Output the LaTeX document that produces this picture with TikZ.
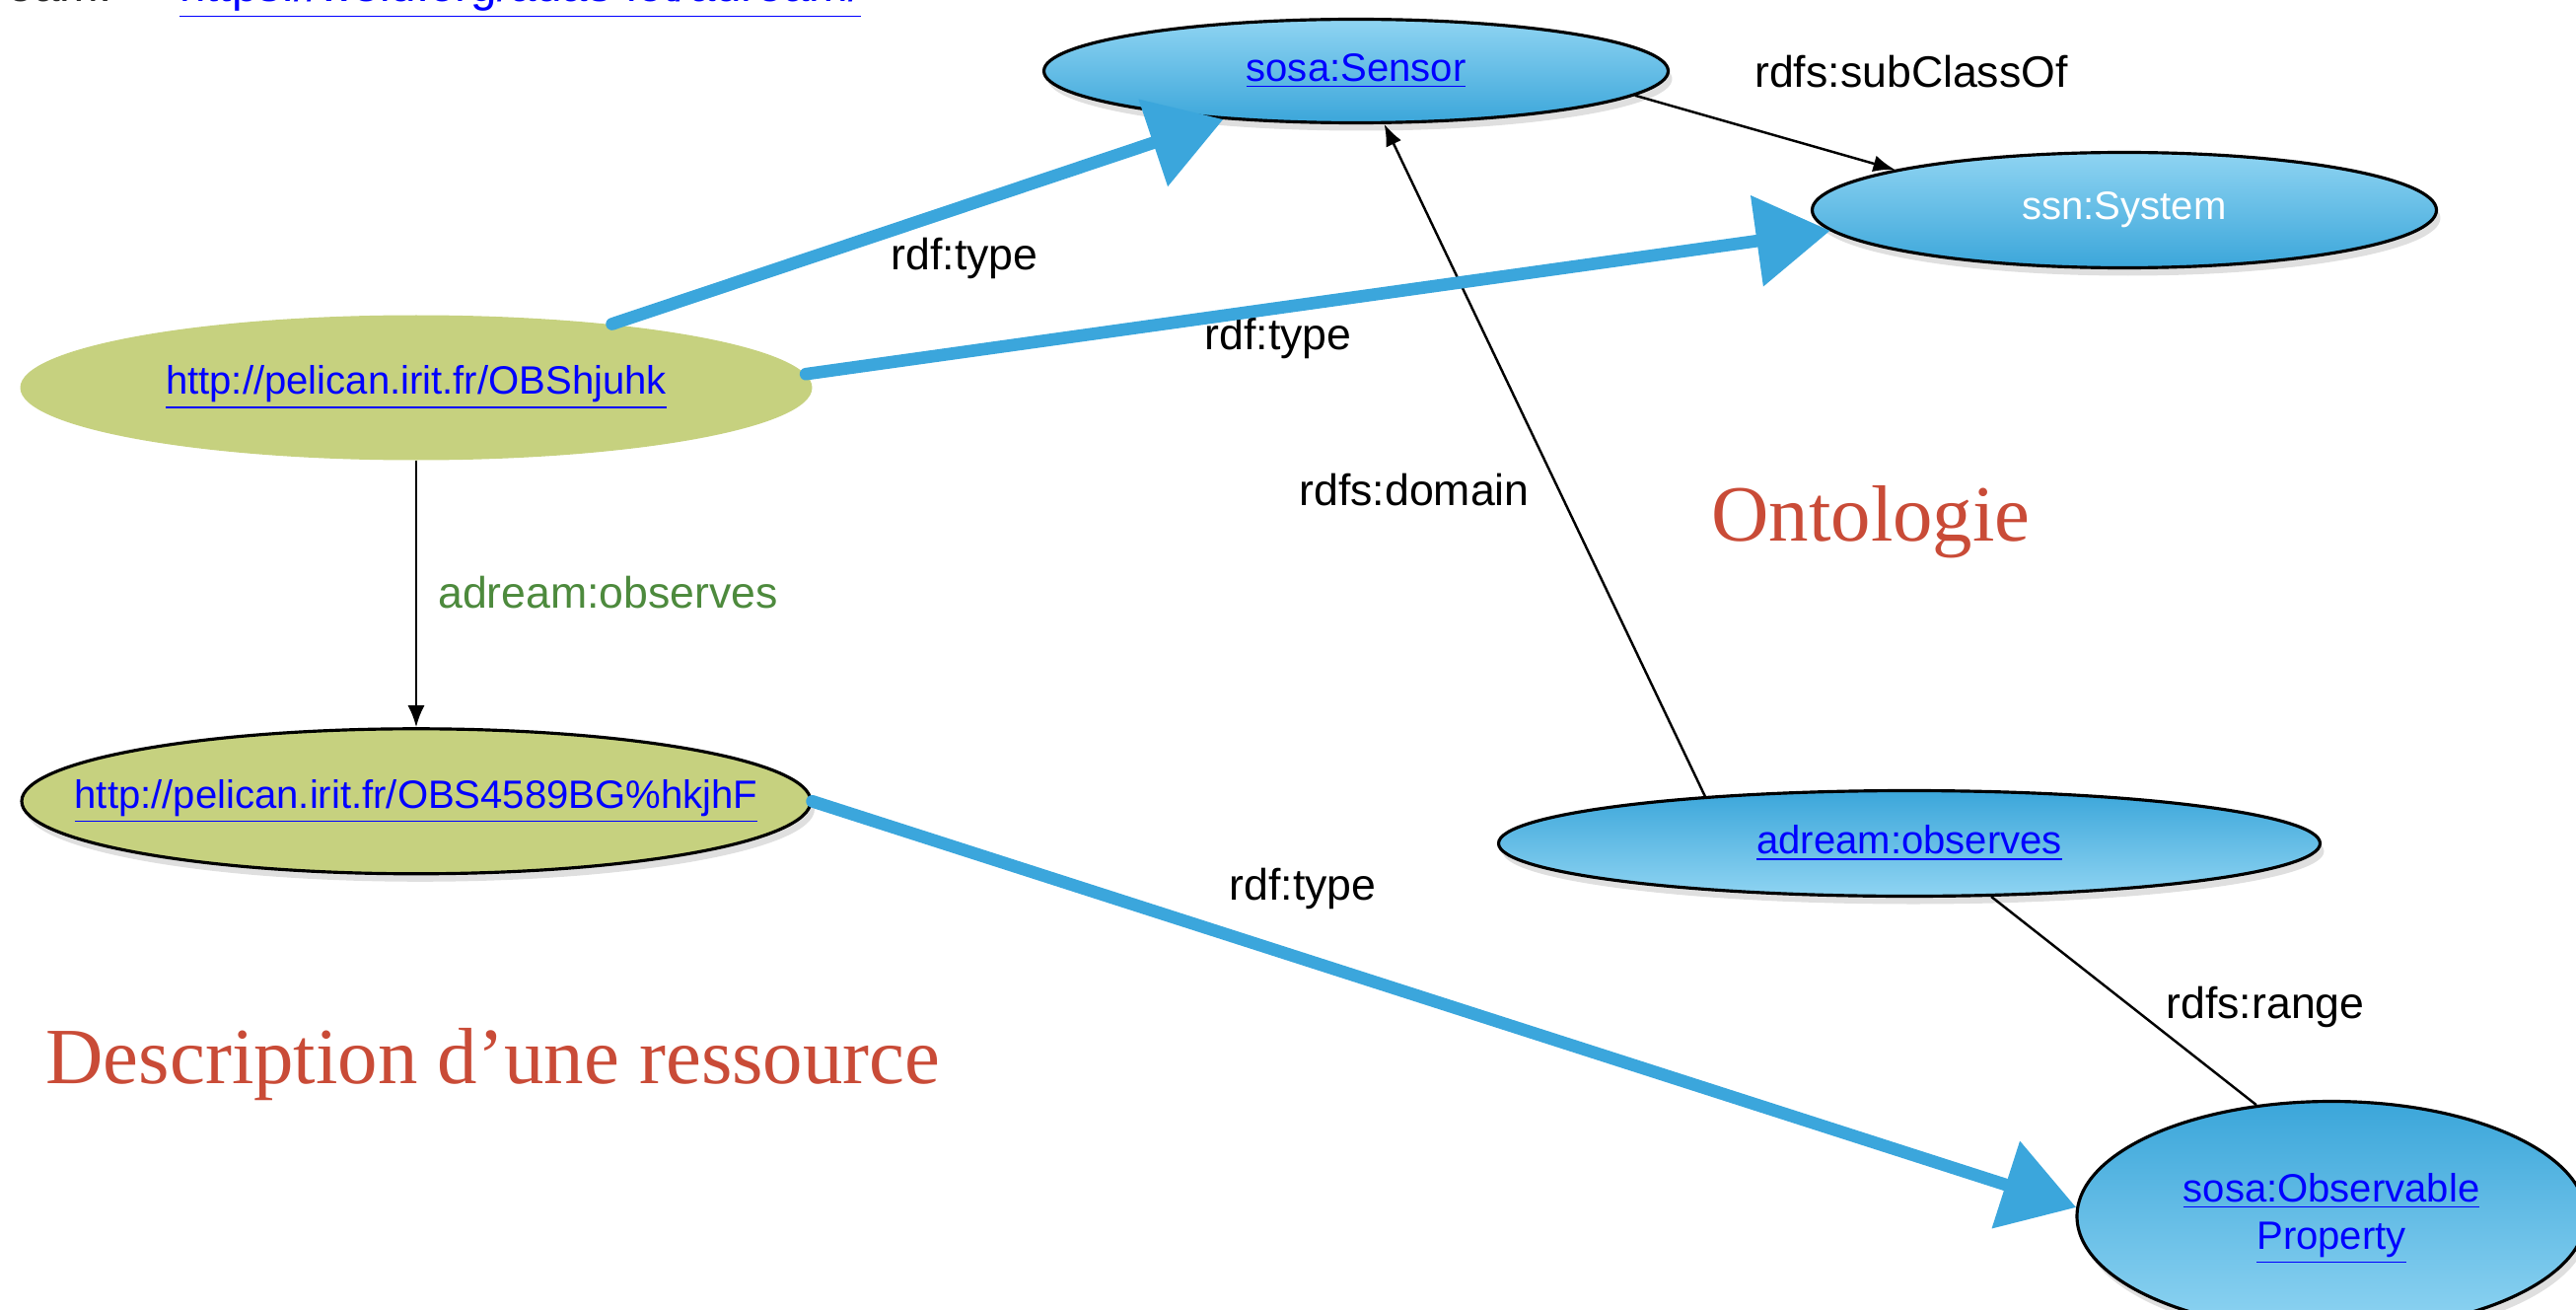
\documentclass[tikz,border=0pt]{standalone}
\usepackage{fontspec}
\setmainfont{Liberation Sans}
\newfontfamily\titlefont{Liberation Serif}
\usetikzlibrary{positioning,shapes.geometric,shadows,arrows.meta}

\definecolor{skyhi}{HTML}{8FD4F2}
\definecolor{skylo}{HTML}{3BA6DA}
\definecolor{olive}{HTML}{C6D17F}
\definecolor{chalk}{HTML}{3BA6DC}
\definecolor{linkblue}{HTML}{0000FF}
\definecolor{titlered}{HTML}{C94B37}
\definecolor{relgreen}{HTML}{4D8A3D}

\newcommand{\lnk}[1]{\textcolor{linkblue}{\underline{#1}}}

\begin{document}
\begin{tikzpicture}[
			font=\fontsize{11.4}{13.7}\selectfont,
			classup/.style={ellipse, draw=black, line width=0.9pt, top color=skyhi, bottom color=skylo, inner sep=0pt,
				drop shadow={shadow xshift=0.4mm, shadow yshift=-0.8mm, opacity=0.25}},
			classdown/.style={classup, top color=skylo, bottom color=skyhi},
			instance/.style={ellipse, fill=olive, inner sep=0pt},
			rel/.style={rectangle, inner sep=1pt, text=black, font=\fontsize{12.7}{15}\selectfont},
			heading/.style={rectangle, inner sep=0pt, text=titlered, font=\titlefont\fontsize{23}{28}\selectfont},
			typearrow/.style={draw=chalk, line width=3.6pt, line cap=round, -{Triangle[length=7.5mm,width=9mm]}},
			thinarrow/.style={draw=black, line width=0.7pt, -{Latex[length=2.2mm,width=1.7mm]}}
		]
			\clip (0,0) rectangle (26.12,-13.28);
			% clipped header line
			\node[rel, anchor=base west, text=black!85, font=\fontsize{13.5}{16}\selectfont] (nsdecl) at (-0.65,-0.02)
				{adream:\hspace{0.69cm}\lnk{https://w3id.org/adas-iot/adream/}};
			% ontology side
			\node[classup, minimum width=6.33cm, minimum height=1.05cm] (sensor) at (13.75,-0.72) {\makebox[0pt]{\lnk{sosa:Sensor}}};
			\node[classup, minimum width=6.33cm, minimum height=1.17cm] (system) at (21.54,-2.13) {\makebox[0pt]{\textcolor{white}{ssn:System}}};
			\node[classdown, minimum width=8.33cm, minimum height=1.07cm] (observes) at (19.36,-8.55) {\makebox[0pt]{\lnk{adream:observes}}};
			\node[classdown, minimum width=5.16cm, minimum height=2.33cm] (obsprop) at (23.64,-12.33)
				{\makebox[0pt]{\begin{tabular}{@{}c@{}}\lnk{sosa:Observable}\\\lnk{Property}\end{tabular}}};
			% resource side
			\node[instance, minimum width=8.03cm, minimum height=1.47cm] (obs1) at (4.22,-3.93) {\makebox[0pt]{\lnk{http://pelican.irit.fr/OBShjuhk}}};
			\node[instance, draw=black, line width=0.9pt, minimum width=8.0cm, minimum height=1.47cm,
				drop shadow={shadow xshift=0.4mm, shadow yshift=-0.8mm, opacity=0.25}] (obs2) [below=2.7cm of obs1]
				{\makebox[0pt]{\lnk{http://pelican.irit.fr/OBS4589BG\%hkjhF}}};
			% labels
			\node[rel] (subclasslbl) at (19.38,-0.73) {rdfs:subClassOf};
			\node[rel] (typelblone) at (9.78,-2.62) {rdf:type};
			\node[rel] (typelbltwo) at (12.96,-3.43) {rdf:type};
			\node[rel] (domainlbl) at (14.34,-4.97) {rdfs:domain};
			\node[rel, anchor=west, text=relgreen] (observeslbl) at (4.40,-6.01) {adream:observes};
			\node[rel] (typelblthree) at (13.21,-9.01) {rdf:type};
			\node[rel] (rangelbl) at (22.97,-10.21) {rdfs:range};
			\node[heading] (ontotitle) at (18.97,-5.29) {Ontologie};
			\node[heading] (restitle) at (5.00,-10.79) {Description d’une ressource};
			% connectors
			\draw[thinarrow] (sensor.-5) -- (system.170);
			\draw[thinarrow] (observes.167) -- (sensor.-62);
			\draw[draw=black, line width=0.7pt] (observes.-33) -- (obsprop.124);
			\draw[thinarrow] (obs1.south) -- (obs2.north);
			\begin{scope}[typearrow]
			\draw (obs1.18) -- (sensor.-160);
			\draw (obs1.2) -- (system.184);
			\draw (obs2.east) -- (obsprop.178);
			\end{scope}
		\end{tikzpicture}
\end{document}
